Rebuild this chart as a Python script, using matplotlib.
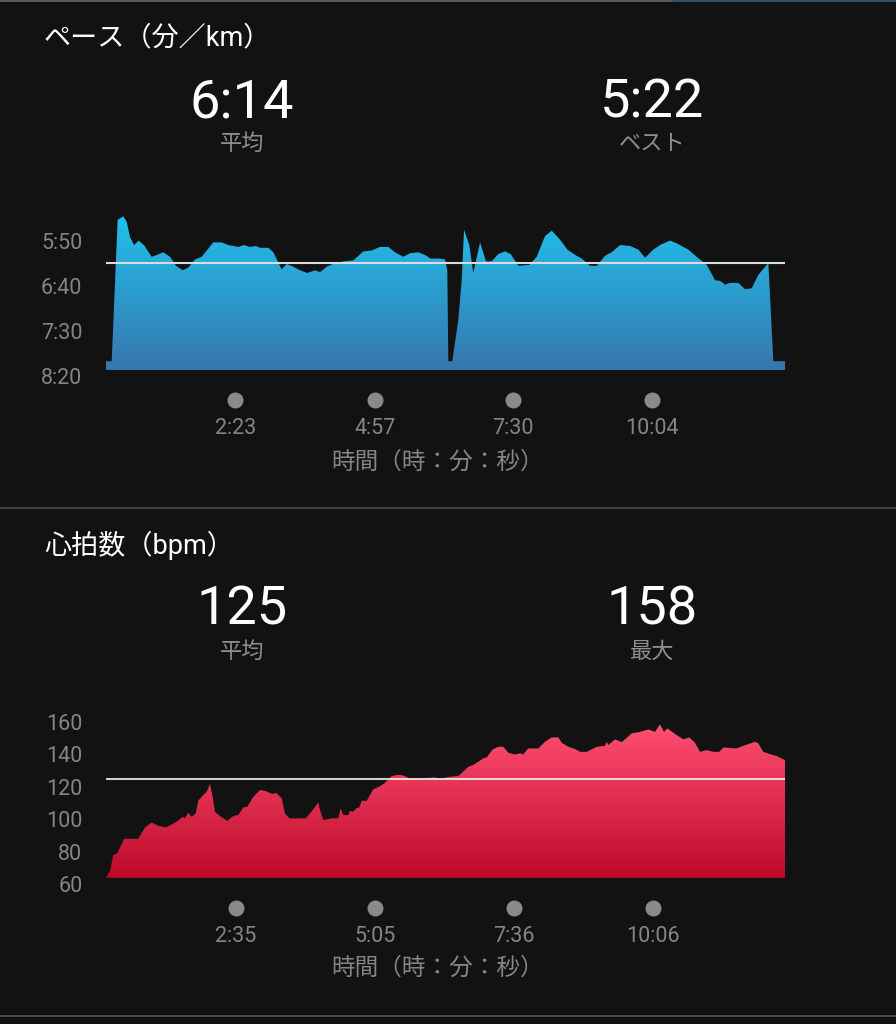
import numpy as np
import matplotlib
matplotlib.use('Agg')
import matplotlib.pyplot as plt
from matplotlib.colors import LinearSegmentedColormap
from matplotlib.lines import Line2D
from matplotlib.transforms import blended_transform_factory

# ---- data ----
pace_t = [0, 6.3, 12.9, 19.1, 22.9, 26.5, 31.0, 36.1, 42.0, 50.5,
          56.0, 63.3, 70.8, 77.4, 84.8, 91.0, 98.4, 105.8, 118.6, 127.9,
          135.2, 146.3, 152.6, 159.2, 165.8, 170.2, 179.4, 185.0, 194.2, 199.8,
          207.1, 214.5, 222.5, 231.0, 236.6, 244.0, 253.2, 264.2, 273.4, 284.4,
          293.7, 302.9, 312.1, 319.5, 328.7, 336.1, 345.3, 352.7, 358.9, 369.2,
          374.8, 377.3, 378.4, 382.8, 389.5, 393.2, 395.8, 401.6, 406.0, 413.5,
          420.1, 426.4, 433.7, 441.1, 447.4, 455.8, 468.0, 476.1, 485.3, 492.7,
          501.9, 510.0, 520.4, 525.9, 535.1, 542.5, 551.6, 559.0, 568.2, 579.3,
          588.5, 595.9, 605.0, 614.3, 623.5, 630.9, 643.7, 653.0, 664.1, 673.3,
          679.5, 684.3, 689.8, 699.0, 706.4, 713.8, 721.1, 732.2, 737.7, 750.6]
# seconds per km
pace_s = [483, 483, 326, 322, 328, 345, 354, 349, 354, 367,
          365, 362, 367, 377, 382, 379, 370, 367, 351, 351,
          354, 356, 354, 356, 355, 357, 357, 362, 381, 375,
          378, 382, 385, 382, 384, 378, 374, 372, 371, 361,
          360, 356, 356, 362, 367, 363, 362, 365, 369, 369,
          370, 382, 483, 483, 437, 393, 337, 354, 385, 351,
          372, 372, 364, 361, 364, 377, 376, 367, 344, 338,
          348, 359, 366, 369, 377, 377, 366, 362, 354, 355,
          359, 368, 359, 353, 349, 352, 359, 367, 376, 393,
          394, 398, 396, 396, 403, 402, 387, 374, 483, 483]
pace_avg = 374
pace_ticks = [143, 297, 450, 604]
pace_tick_labels = ['2:23', '4:57', '7:30', '10:04']
pace_yticks = [350, 400, 450, 500]
pace_ylabels = ['5:50', '6:40', '7:30', '8:20']

hr_t = [14.2, 18.5, 22.1, 26.4, 33.7, 49.2, 56.4, 63.7, 70.8, 79.2,
        90.7, 97.2, 99.5, 103.3, 107.0, 111.3, 114.1, 119.5, 123.2, 126.8,
        129.7, 132.2, 137.6, 145.5, 152.0, 157.4, 162.9, 167.2, 173.7, 180.9,
        186.3, 194.7, 198.3, 204.4, 208.0, 212.7, 230.7, 238.0, 244.0, 245.9,
        249.5, 258.6, 265.7, 268.3, 271.1, 276.5, 278.4, 281.9, 284.8, 288.4,
        291.0, 296.5, 303.6, 310.9, 316.3, 323.5, 330.7, 336.1, 343.3, 354.2,
        370.4, 375.8, 386.7, 395.6, 406.5, 411.9, 422.7, 426.4, 432.9, 439.0,
        444.4, 449.8, 457.0, 462.5, 466.0, 471.4, 482.2, 489.5, 496.8, 503.9,
        507.6, 514.7, 522.0, 527.4, 534.6, 545.5, 554.4, 556.3, 558.0, 565.3,
        572.5, 583.4, 592.4, 601.3, 608.6, 614.0, 618.3, 621.9, 632.1, 639.2,
        645.7, 651.9, 657.3, 664.5, 671.7, 678.2, 682.5, 697.0, 704.2, 716.9,
        720.4, 725.8, 733.1, 740.4, 749.3]
hr_bpm = [64, 68, 78, 79, 88, 88, 95, 98, 96, 95,
          98.5, 101.5, 100.6, 104, 101.5, 103.6, 111.4, 114.9, 116.9, 121.7,
          113.8, 104.6, 102, 99.1, 102, 102.6, 107.3, 107.7, 113.8, 118,
          117.5, 115.5, 116.3, 112.9, 103.6, 100.6, 100.6, 105.7, 110.4, 105.7,
          99.5, 100.6, 100.6, 106.7, 102.6, 102.6, 105.2, 104.6, 106.7, 107.3,
          111.4, 111.4, 118.4, 120.4, 122.5, 126.6, 127.4, 127, 125, 125,
          125.8, 125, 126.2, 126.6, 132.3, 133.4, 137.5, 138.1, 143, 144.6,
          144.6, 140.9, 139.9, 140.6, 139.9, 143.6, 143.6, 147.7, 150.4, 150.4,
          147.1, 144.6, 143.2, 141.5, 141.5, 144.6, 145.2, 147.7, 145.7, 149.2,
          147.5, 152.9, 153.8, 155.3, 153.8, 158.4, 153.8, 155.9, 151.8, 149.2,
          150.4, 147.1, 141.5, 142.6, 141.5, 141.5, 144.2, 143.6, 145.2, 147.7,
          146.7, 141.5, 140.1, 138.9, 136.4]
hr_avg = 125
hr_ticks = [155, 305, 456, 606]
hr_tick_labels = ['2:35', '5:05', '7:36', '10:06']
hr_yticks = [60, 80, 100, 120, 140, 160]

W, H = 896, 1024
BG = '#121212'
GRAY = '#858585'
NUM_FONT = ['Roboto', 'Noto Sans CJK JP', 'DejaVu Sans']
JP_FONT = ['Noto Sans CJK JP', 'DejaVu Sans']

plt.rcParams['font.family'] = NUM_FONT

fig = plt.figure(figsize=(W / 100, H / 100), dpi=100, facecolor=BG)


def fy(y):
    return 1 - y / H


def px_axes(x0, y0, x1, y1):
    ax = fig.add_axes([x0 / W, 1 - y1 / H, (x1 - x0) / W, (y1 - y0) / H])
    ax.set_facecolor('none')
    for s in ax.spines.values():
        s.set_visible(False)
    return ax


def gradient_fill(ax, x, y, base, top, c_top, c_bot):
    poly = ax.fill_between(x, y, base, color='none', lw=0)
    cmap = LinearSegmentedColormap.from_list('g', [c_top, c_bot])
    grad = np.linspace(0, 1, 256)[:, None]
    im = ax.imshow(grad, cmap=cmap, aspect='auto', origin='upper',
                   extent=[x[0], x[-1], base, top], zorder=1)
    im.set_clip_path(poly.get_paths()[0], transform=ax.transData)


def x_dots(ax, ticks, labels, y_dot, y_lab, y_title):
    tr = blended_transform_factory(ax.transData, fig.transFigure)
    ax.plot(ticks, [fy(y_dot)] * len(ticks), 'o', ms=11.5, color='#8a8a8a',
            mec='none', transform=tr, clip_on=False)
    for t, lab in zip(ticks, labels):
        ax.text(t, fy(y_lab), lab, transform=tr, ha='center', va='center',
                color=GRAY, fontsize=15.5, family=NUM_FONT)
    fig.text(438 / W, fy(y_title), '時間（時：分：秒）', ha='center', va='center',
             color=GRAY, fontsize=17, family=JP_FONT)


def header(title, y_title, v1, l1, v2, l2, y_num, y_lab):
    fig.text(44 / W, fy(y_title), title, ha='left', va='center', color='white',
             fontsize=19.5, family=NUM_FONT)
    for x, v, l in [(242, v1, l1), (652, v2, l2)]:
        fig.text(x / W, fy(y_num), v, ha='center', va='center', color='white',
                 fontsize=39, family=NUM_FONT)
        fig.text(x / W, fy(y_lab), l, ha='center', va='center', color='#8e8e8e',
                 fontsize=16, family=JP_FONT)


# ---- pace ----
header('ペース（分／km）', 38, '6:14', '平均', '5:22', 'ベスト', 103, 143)
ax1 = px_axes(106, 200, 785, 380)
gradient_fill(ax1, pace_t, pace_s, 492.8, 318, '#1fc3ee', '#3776ae')
ax1.axhline(pace_avg, color='#dcdcdc', lw=1.5, zorder=3)
ax1.set_xlim(0, 750.6)
ax1.set_ylim(503.9, 303.9)
ax1.set_xticks([])
ax1.set_yticks(pace_yticks)
ax1.set_yticklabels(pace_ylabels)
ax1.tick_params(axis='y', length=0, pad=17, labelcolor=GRAY, labelsize=15.5)
x_dots(ax1, pace_ticks, pace_tick_labels, 400, 429, 462)

# separators
fig.add_artist(Line2D([0, 1], [fy(508)] * 2, transform=fig.transFigure,
                      color='#4a4a4a', lw=1.2))
fig.add_artist(Line2D([0, 672 / W], [fy(0.8)] * 2, transform=fig.transFigure,
                      color='#6a6a6a', lw=1.2))
fig.add_artist(Line2D([672 / W, 1], [fy(0.8)] * 2, transform=fig.transFigure,
                      color='#3d5a78', lw=1.2))
fig.add_artist(Line2D([0, 1], [fy(1016)] * 2, transform=fig.transFigure,
                      color='#555555', lw=1.2))

# ---- heart rate ----
header('心拍数（bpm）', 545, '125', '平均', '158', '最大', 610, 651)
ax2 = px_axes(106, 700, 785, 890)
gradient_fill(ax2, hr_t, hr_bpm, 64, 158, '#ff4f72', '#bd0a29')
ax2.axhline(hr_avg, color='#e6e6e6', lw=1.5, alpha=0.9, zorder=3)
ax2.set_xlim(14.2, 749.3)
ax2.set_ylim(56.5, 173.4)
ax2.set_xticks([])
ax2.set_yticks(hr_yticks)
ax2.tick_params(axis='y', length=0, pad=17, labelcolor=GRAY, labelsize=15.5)
x_dots(ax2, hr_ticks, hr_tick_labels, 908, 936, 968)

fig.savefig('out.png', dpi=100, facecolor=BG)
